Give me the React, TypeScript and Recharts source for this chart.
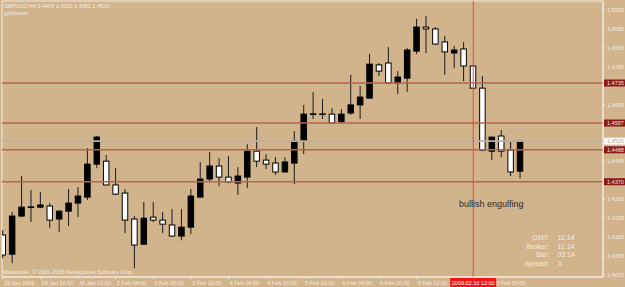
import {
  ComposedChart,
  Bar,
  XAxis,
  YAxis,
  ReferenceLine,
  ReferenceArea,
} from 'recharts';

// GBPUSD H4 bars
const times = [
  '29 Jan 04:00', '29 Jan 08:00', '29 Jan 12:00', '29 Jan 16:00', '29 Jan 20:00',
  '30 Jan 00:00', '30 Jan 04:00', '30 Jan 08:00', '30 Jan 12:00', '30 Jan 16:00', '30 Jan 20:00',
  '2 Feb 00:00', '2 Feb 04:00', '2 Feb 08:00', '2 Feb 12:00', '2 Feb 16:00', '2 Feb 20:00',
  '3 Feb 00:00', '3 Feb 04:00', '3 Feb 08:00', '3 Feb 12:00', '3 Feb 16:00', '3 Feb 20:00',
  '4 Feb 00:00', '4 Feb 04:00', '4 Feb 08:00', '4 Feb 12:00', '4 Feb 16:00', '4 Feb 20:00',
  '5 Feb 00:00', '5 Feb 04:00', '5 Feb 08:00', '5 Feb 12:00', '5 Feb 16:00', '5 Feb 20:00',
  '6 Feb 00:00', '6 Feb 04:00', '6 Feb 08:00', '6 Feb 12:00', '6 Feb 16:00', '6 Feb 20:00',
  '9 Feb 00:00', '9 Feb 04:00', '9 Feb 08:00', '9 Feb 12:00', '9 Feb 16:00', '9 Feb 20:00',
  '10 Feb 00:00', '10 Feb 04:00', '10 Feb 08:00', '10 Feb 12:00', '10 Feb 16:00', '10 Feb 20:00',
  '11 Feb 00:00', '11 Feb 04:00', '11 Feb 08:00',
];

const opens = [
  1.4173, 1.4102, 1.4243, 1.4276, 1.4276, 1.4280, 1.4232, 1.4261, 1.4291, 1.4313,
  1.4435, 1.4446, 1.4358, 1.4328, 1.4232, 1.4139, 1.4239, 1.4228, 1.4210, 1.4169,
  1.4202, 1.4313, 1.4380, 1.4428, 1.4387, 1.4365, 1.4387, 1.4483, 1.4450, 1.4439,
  1.4406, 1.4439, 1.4520, 1.4620, 1.4621, 1.4620, 1.4591, 1.4624, 1.4654, 1.4679,
  1.4802, 1.4809, 1.4735, 1.4753, 1.4853, 1.4942, 1.4935, 1.4887, 1.4846, 1.4861,
  1.4798, 1.4716, 1.4483, 1.4539, 1.4487, 1.4409,
];
const highs = [
  1.4191, 1.4258, 1.4391, 1.4339, 1.4332, 1.4291, 1.4265, 1.4343, 1.4350, 1.4494,
  1.4539, 1.4469, 1.4420, 1.4343, 1.4243, 1.4295, 1.4295, 1.4258, 1.4269, 1.4269,
  1.4343, 1.4443, 1.4480, 1.4457, 1.4465, 1.4424, 1.4509, 1.4572, 1.4472, 1.4461,
  1.4461, 1.4557, 1.4654, 1.4702, 1.4676, 1.4642, 1.4639, 1.4765, 1.4724, 1.4842,
  1.4809, 1.4868, 1.4779, 1.4864, 1.4972, 1.4983, 1.4942, 1.4909, 1.4872, 1.4887,
  1.4798, 1.4761, 1.4535, 1.4561, 1.4517, 1.4520,
];
const lows = [
  1.4087, 1.4069, 1.4239, 1.4221, 1.4272, 1.4198, 1.4184, 1.4206, 1.4239, 1.4302,
  1.4420, 1.4357, 1.4321, 1.4180, 1.4050, 1.4136, 1.4221, 1.4180, 1.4165, 1.4154,
  1.4176, 1.4312, 1.4369, 1.4354, 1.4365, 1.4321, 1.4346, 1.4424, 1.4417, 1.4395,
  1.4405, 1.4361, 1.4472, 1.4602, 1.4602, 1.4586, 1.4586, 1.4617, 1.4602, 1.4676,
  1.4761, 1.4731, 1.4694, 1.4702, 1.4842, 1.4846, 1.4876, 1.4765, 1.4790, 1.4742,
  1.4716, 1.4483, 1.4450, 1.4461, 1.4391, 1.4382,
];
const closes = [
  1.4099, 1.4243, 1.4276, 1.4277, 1.4284, 1.4228, 1.4261, 1.4291, 1.4317, 1.4435,
  1.4535, 1.4358, 1.4324, 1.4228, 1.4136, 1.4235, 1.4228, 1.4213, 1.4169, 1.4202,
  1.4317, 1.4380, 1.4428, 1.4387, 1.4369, 1.4391, 1.4483, 1.4446, 1.4435, 1.4406,
  1.4443, 1.4520, 1.4620, 1.4621, 1.4620, 1.4587, 1.4620, 1.4654, 1.4683, 1.4805,
  1.4779, 1.4735, 1.4757, 1.4857, 1.4942, 1.4935, 1.4879, 1.4850, 1.4857, 1.4798,
  1.4716, 1.4487, 1.4535, 1.4483, 1.4406, 1.4520,
];

const priceTicks = [
  1.5005, 1.4935, 1.4865, 1.4795, 1.4655, 1.4445, 1.4305, 1.4235, 1.4165, 1.4095, 1.4025,
];
const levelLines = [1.4735, 1.4587, 1.4488, 1.437];
const bidPrice = 1.452;
const timeTicks = [0, 4, 8, 12, 16, 20, 24, 28, 32, 36, 40, 44, 52];
const firstTickLabel = '29 Jan 2009';
const cursorBar = 50;
const cursorLabel = '2009.02.10 12:00';

const title = 'GBPUSD,H4  1.4409 1.4520 1.4382 1.4520';
const infoLabels = ['GMT:', 'Broker:', 'Bar:', 'Spread:'];
const infoValues = ['11:14', '11:14', '03:14', '3'];

const data = times.map((t, i) => ({
  i,
  time: t,
  open: opens[i],
  high: highs[i],
  low: lows[i],
  close: closes[i],
}));

const BG = '#D2B48C';
const FG = '#F3EDE1';
const LEVEL = '#B4664F';
const FONT = '"Liberation Sans", Arial, sans-serif';
const X_DOMAIN = [-0.1, 63.8];
const Y_DOMAIN = [1.40176, 1.50383];

function Candle(props: any) {
  const { x, y, width, height, payload } = props;
  if (!payload) return null;
  const { open, close, high, low } = payload;
  const top = Math.min(y, y + height);
  const h = Math.abs(height);
  const ratio = high - low > 0 ? h / (high - low) : 0;
  const cx = x + width / 2;
  const yo = top + (high - open) * ratio;
  const yc = top + (high - close) * ratio;
  const bull = close >= open;
  const bTop = Math.min(yo, yc);
  const bH = Math.max(0.6, Math.abs(yo - yc));
  return (
    <g>
      <line x1={cx} x2={cx} y1={top} y2={top + h} stroke="#1c1a18" strokeWidth={1} />
      <rect
        x={cx - 2.75}
        y={bTop}
        width={5.5}
        height={bH}
        fill={bull ? '#000' : '#fff'}
        stroke="#000"
        strokeWidth={1}
      />
    </g>
  );
}

function PriceTick(props: any) {
  const { x, y, payload } = props;
  const v = payload.value;
  const isLevel = levelLines.includes(v);
  const isBid = v === bidPrice;
  if (isLevel || isBid) {
    return (
      <g>
        <rect x={x + 1} y={y - 3.5} width={21} height={7} fill={isBid ? '#fbfaf6' : '#8c1a14'} />
        <text
          x={x + 4}
          y={y}
          dominantBaseline="central"
          fontSize={5.5}
          fontFamily={FONT}
          fill={isBid ? '#b9a890' : '#f6e6e0'}
        >
          {v.toFixed(4)}
        </text>
      </g>
    );
  }
  return (
    <g>
      <line x1={x} x2={x + 2} y1={y} y2={y} stroke={FG} />
      <text x={x + 4} y={y} dominantBaseline="central" fontSize={5.5} fontFamily={FONT} fill={FG}>
        {v.toFixed(4)}
      </text>
    </g>
  );
}

function TimeTick(props: any) {
  const { x, y, payload } = props;
  const v = payload.value;
  if (v === cursorBar) {
    return (
      <g>
        <rect x={x - 23} y={y + 1} width={46} height={9} fill="#f01414" />
        <text
          x={x}
          y={y + 5.5}
          textAnchor="middle"
          dominantBaseline="central"
          fontSize={5.5}
          fontFamily={FONT}
          fill="#fff"
        >
          {cursorLabel}
        </text>
      </g>
    );
  }
  const label = v === 0 ? firstTickLabel : times[v];
  return (
    <g>
      <line x1={x} x2={x} y1={y} y2={y + 2} stroke={FG} />
      <text x={x + 1} y={y + 5.5} dominantBaseline="central" fontSize={5.5} fontFamily={FONT} fill={FG}>
        {label}
      </text>
    </g>
  );
}

export default function App() {
  return (
    <div style={{ position: 'fixed', left: 0, top: 0, width: 625, height: 287, background: BG }}>
      <ComposedChart
        width={625}
        height={287}
        data={data}
        margin={{ top: 1, right: 0, bottom: 0, left: 2 }}
      >
        <XAxis
          type="number"
          dataKey="i"
          domain={X_DOMAIN}
          allowDataOverflow
          ticks={[...timeTicks, cursorBar]}
          interval={0}
          height={10}
          tickSize={0}
          tickMargin={0}
          tickLine={false}
          axisLine={{ stroke: FG }}
          tick={<TimeTick />}
        />
        <YAxis
          orientation="right"
          domain={Y_DOMAIN}
          allowDataOverflow
          ticks={[...priceTicks, ...levelLines, bidPrice]}
          interval={0}
          width={22}
          tickSize={0}
          tickMargin={0}
          tickLine={false}
          axisLine={{ stroke: FG }}
          tick={<PriceTick />}
        />
        <ReferenceArea
          x1={X_DOMAIN[0]}
          x2={X_DOMAIN[1]}
          y1={Y_DOMAIN[0]}
          y2={Y_DOMAIN[1]}
          fill="none"
          stroke={FG}
          fillOpacity={0}
        />
        {levelLines.map((v) => (
          <ReferenceLine key={v} y={v} stroke={LEVEL} strokeWidth={1.6} />
        ))}
        <ReferenceLine y={bidPrice} stroke="#b8b0a2" strokeWidth={1.6} />
        <Bar
          dataKey={(d: any) => [d.low, d.high]}
          barSize={7}
          shape={(p: any) => <Candle {...p} />}
          isAnimationActive={false}
        />
        <ReferenceLine x={cursorBar} stroke="#f04444" strokeWidth={1} />
      </ComposedChart>
      <svg
        width={625}
        height={287}
        style={{ position: 'absolute', left: 0, top: 0, pointerEvents: 'none' }}
        fontFamily={FONT}
      >
        <text x={4} y={6} dominantBaseline="central" fontSize={5.5} fill={FG}>
          {title}
        </text>
        <text x={4} y={12.7} dominantBaseline="central" fontSize={5.5} fill={FG}>
          goldminer
        </text>
        <text x={3} y={272} dominantBaseline="central" fontSize={5.5} fill={FG}>
          Metatrader, © 2001-2008 MetaQuotes Software Corp.
        </text>
        <text x={459} y={204} dominantBaseline="central" fontSize={9} fill="#2e2a25">
          bullish engulfing
        </text>
        {infoLabels.map((t, k) => (
          <text
            key={t}
            x={549}
            y={237.3 + k * 8.8}
            textAnchor="end"
            dominantBaseline="central"
            fontSize={7}
            fill={FG}
          >
            {t}
          </text>
        ))}
        {infoValues.map((t, k) => (
          <text key={k} x={557.5} y={237.3 + k * 8.8} dominantBaseline="central" fontSize={7} fill={FG}>
            {t}
          </text>
        ))}
      </svg>
    </div>
  );
}
